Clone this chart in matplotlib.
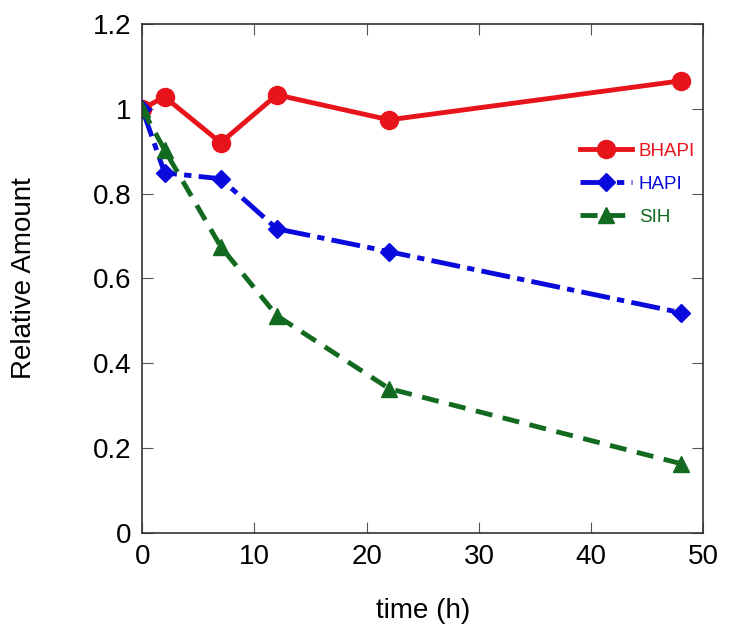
import matplotlib.pyplot as plt

plt.rcParams['font.family'] = ['Liberation Sans', 'DejaVu Sans']

time_h = [0, 2, 7, 12, 22, 48]
bhapi = [1.0, 1.028, 0.92, 1.033, 0.974, 1.066]
hapi = [1.0, 0.849, 0.835, 0.717, 0.663, 0.519]
sih = [1.0, 0.903, 0.675, 0.512, 0.340, 0.163]

fig = plt.figure(figsize=(7.29, 6.32), dpi=100)
ax = fig.add_axes([0.195, 0.157, 0.770, 0.805])

ax.plot(time_h, bhapi, color='#e8141b', lw=3.5, marker='o', ms=13, label='BHAPI')
ax.plot(time_h, hapi, color='#0a0adc', lw=3.5, ls=(0, (6, 1.5, 1.5, 1.5)), marker='D', ms=9, label='HAPI')
ax.plot(time_h, sih, color='#116a1f', lw=3.5, ls=(0, (3.5, 2.2)), marker='^', ms=12, label='SIH')

ax.set_xlim(0, 50)
ax.set_ylim(0, 1.2)
ax.set_xticks([0, 10, 20, 30, 40, 50])
ax.set_yticks([0, 0.2, 0.4, 0.6, 0.8, 1.0, 1.2])
ax.set_yticklabels(['0', '0.2', '0.4', '0.6', '0.8', '1', '1.2'])
ax.tick_params(direction='in', top=True, right=True, length=8, width=0.8,
               labelsize=20, pad=8, color='#555555')
for s in ax.spines.values():
    s.set_color('#333333')
    s.set_linewidth(1.2)

ax.set_xlabel('time (h)', fontsize=20, labelpad=20)
ax.set_ylabel('Relative Amount', fontsize=20, labelpad=40)

leg = ax.legend(loc='upper right', bbox_to_anchor=(1.015, 0.80), frameon=False,
                fontsize=13.5, handlelength=2.8, labelspacing=0.85, handletextpad=0.35)
for t, c in zip(leg.get_texts(), ['#e8141b', '#0a0adc', '#116a1f']):
    t.set_color(c)

fig.savefig('out.png', dpi=100)
